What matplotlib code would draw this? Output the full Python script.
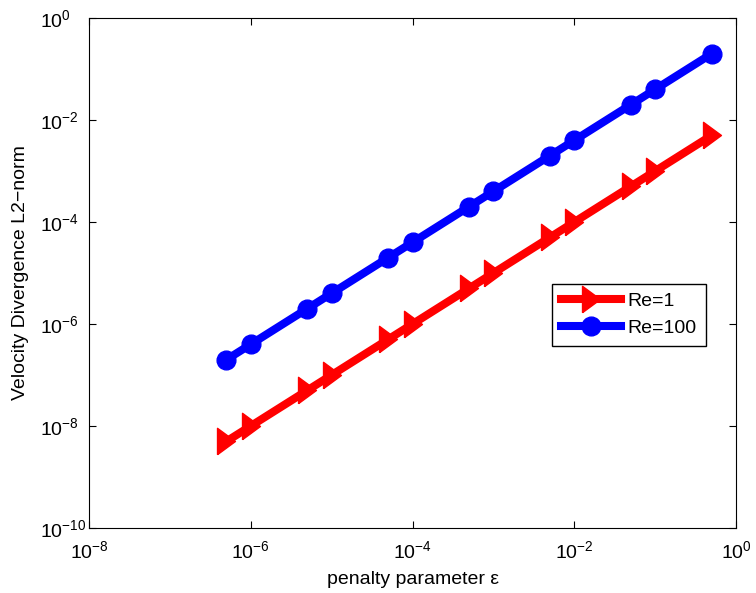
import matplotlib
matplotlib.use('Agg')
import matplotlib.pyplot as plt
import numpy as np

plt.rcParams['font.family'] = ['Liberation Sans', 'DejaVu Sans']
plt.rcParams['mathtext.fontset'] = 'custom'
plt.rcParams['mathtext.rm'] = 'Liberation Sans'
plt.rcParams['mathtext.it'] = 'Liberation Sans'

eps = [5e-7, 1e-6, 5e-6, 1e-5, 5e-5, 1e-4, 5e-4, 1e-3, 5e-3, 1e-2, 5e-2, 1e-1, 5e-1]
div_re1 = [5e-9, 1e-8, 5e-8, 1e-7, 5e-7, 1e-6, 5e-6, 1e-5, 5e-5, 1e-4, 5e-4, 1e-3, 5e-3]
div_re100 = [2e-7, 4e-7, 2e-6, 4e-6, 2e-5, 4e-5, 2e-4, 4e-4, 2e-3, 4e-3, 2e-2, 4e-2, 2e-1]

# matlab style right-pointing triangle (taller than wide)
tri = [(-0.68, -1.0), (0.68, 0.0), (-0.68, 1.0), (-0.68, -1.0)]

fig = plt.figure(figsize=(7.56, 5.93), dpi=100)
ax = fig.add_axes([0.1177, 0.1096, 0.856, 0.860])

ax.loglog(eps, div_re1, color='red', lw=5.8, marker=tri, ms=19, label='Re=1')
ax.loglog(eps, div_re100, color='blue', lw=5.8, marker='o', ms=13.5, label='Re=100')

ax.set_xlim(1e-8, 1e0)
ax.set_ylim(1e-10, 1e0)
ax.set_xticks([1e-8, 1e-6, 1e-4, 1e-2, 1e0])
ax.set_yticks([1e-10, 1e-8, 1e-6, 1e-4, 1e-2, 1e0])
ax.minorticks_off()
ax.tick_params(direction='in', length=5, labelsize=14, top=True, right=True)
ax.tick_params(axis='x', pad=9)
ax.tick_params(axis='y', pad=35)
for lab in ax.get_yticklabels():
    lab.set_ha('left')

ax.set_xlabel('penalty parameter \u03b5', fontsize=14, labelpad=6)
ax.set_ylabel('Velocity Divergence L2\u2212norm', fontsize=14, labelpad=8)

leg = ax.legend(loc='upper left', bbox_to_anchor=(0.716, 0.479), fontsize=14,
                fancybox=False, edgecolor='black', framealpha=1,
                handlelength=3.05, handletextpad=0.36, borderpad=0.46,
                labelspacing=0.47, borderaxespad=0)
leg.get_frame().set_linewidth(1)

fig.savefig('out.png', dpi=100)
